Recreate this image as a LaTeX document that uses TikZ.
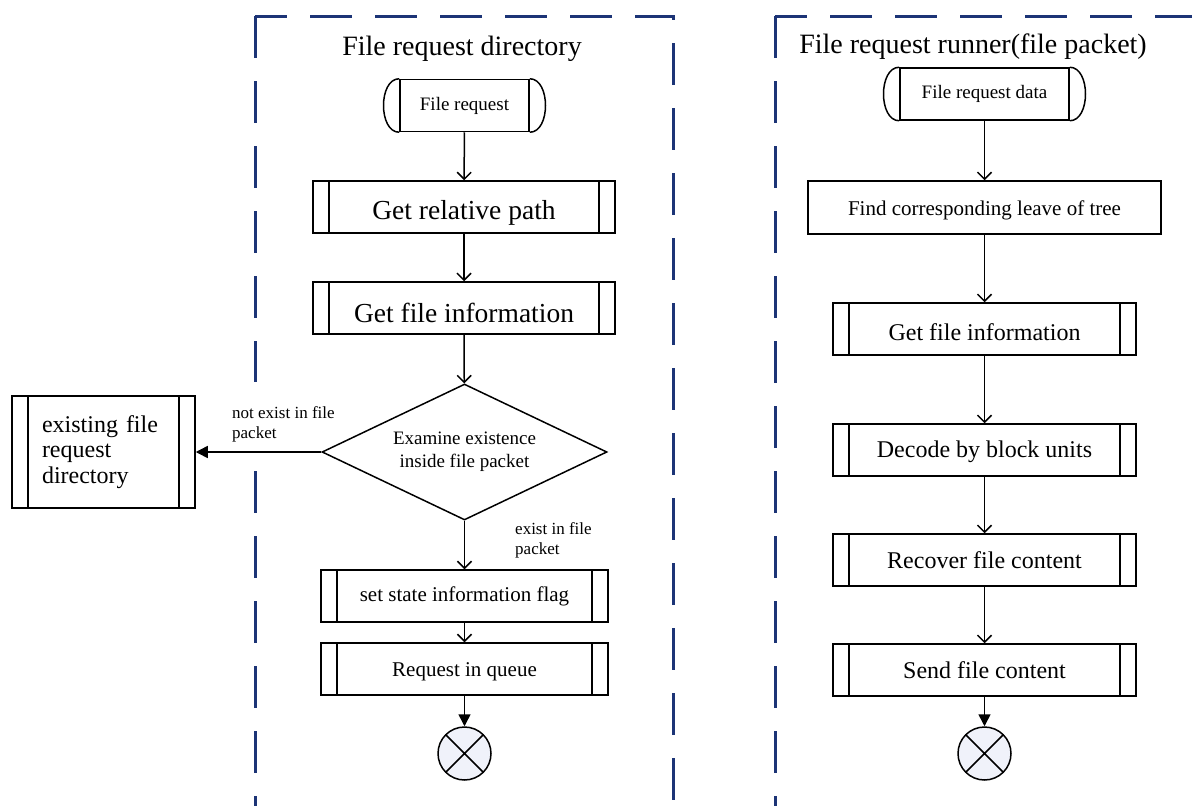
\documentclass[tikz,border=0pt]{standalone}
\usepackage{fontspec}
\setmainfont{Liberation Serif}
\usetikzlibrary{shapes.geometric,arrows.meta}
\definecolor{framenavy}{RGB}{28,52,118}
\definecolor{endfill}{RGB}{240,242,250}
\tikzset{
  fs/.style={font=\fontsize{#1pt}{1.2\dimexpr#1pt\relax}\selectfont},
  frame/.style={draw=framenavy, line width=3pt, dash pattern=on 42pt off 23pt},
  plainbox/.style={draw, line width=1.5pt, minimum height=52pt, inner sep=0pt},
  procbox/.style={plainbox, path picture={
      \draw[line width=1.5pt]
        ([xshift=16pt]path picture bounding box.north west) -- ([xshift=16pt]path picture bounding box.south west)
        ([xshift=-16pt]path picture bounding box.north east) -- ([xshift=-16pt]path picture bounding box.south east);}},
  termbox/.style={draw, line width=1.5pt, minimum height=52pt, inner sep=0pt},
  decision/.style={diamond, draw, line width=1.5pt, inner sep=0pt, shape aspect=2.1,
      minimum width=285pt, minimum height=136pt, align=center},
  endnode/.style={circle, draw, line width=1.5pt, fill=endfill, minimum size=53pt, inner sep=0pt,
      path picture={\draw[line width=1.5pt] (path picture bounding box.north west) -- (path picture bounding box.south east)
        (path picture bounding box.north east) -- (path picture bounding box.south west);}},
  flow/.style={draw, line width=1.5pt, -{Straight Barb[length=7pt,width=14pt,line width=1.5pt]}},
  flowfill/.style={draw, line width=1.5pt, -{Triangle[length=12pt,width=12pt]}},
  edgelabel/.style={fs=17, align=left, anchor=north west, inner sep=0pt},
}
\newcommand\termcaps[1]{%
  \draw[line width=1.5pt] (#1.north west) .. controls +(-21,0) and +(-21,0) .. (#1.south west)
    (#1.north east) .. controls +(21,0) and +(21,0) .. (#1.south east);}
% lower a line of text without changing the size of its box
\newcommand\lowered[2]{\raisebox{-#1}[\height][\depth]{#2}}
\begin{document}
\begin{tikzpicture}[x=1pt,y=-1pt]
\useasboundingbox (0,0) rectangle (1192,806);
\fill[white] (0,0) rectangle (1192,806);

% swim-lane frames (open at the bottom)
\begin{scope}
  \clip (0,0) rectangle (1192,806);
  \draw[frame] (255,16) -- (255,840);
  \draw[frame, dash phase=10pt] (255,16) -- (673,16) -- (673,840);
  \draw[frame] (775,16) -- (775,840);
  \draw[frame, dash phase=10pt] (775,16) -- (1240,16);
\end{scope}

% lane titles
\node[fs=28] (t1) at (462,49) {File request directory};
\node[fs=28] (t2) at (973,47) {File request runner(file packet)};

% branch label on a white patch that breaks the lane border
\node[edgelabel, fill=white, inner xsep=6pt, inner ysep=24pt] (n1) at (226,382) {not exist in file\\packet};
\node[edgelabel] (n2) at (515,522) {exist in file\\packet};

% left lane
\node[termbox, minimum width=129pt, fs=19] (L0) at (464.5,105.5) {File request};
\termcaps{L0}
\node[procbox, minimum width=302pt, fs=27.5] (L1) at (464,207) {\lowered{6pt}{Get relative path}};
\node[procbox, minimum width=302pt, fs=27.5] (L2) at (464,308) {\lowered{5pt}{Get file information}};
\node[decision, fs=19] (D) at (464.5,452) {Examine existence\\inside file packet};
\node[procbox, minimum width=287pt, fs=21] (L3) at (464.5,596) {set state information flag};
\node[procbox, minimum width=287pt, fs=21] (L4) at (464.5,669) {\lowered{3pt}{Request in queue}};
\node[endnode] (LE) at (464.5,753.5) {};

\node[procbox, minimum width=183pt, minimum height=112pt, text width=123pt, align=left,
      font=\fontsize{24pt}{25.5pt}\selectfont] (X) at (103.5,452)
  {existing file\\request\\directory};

\draw[flow] (L0) -- (L1);
\draw[flow] (L1) -- (L2);
\draw[flow] (L2) -- (D);
\draw[flow] (D) -- (L3);
\draw[flow] (L3) -- (L4);
\draw[flowfill] (L4) -- (LE);
\draw[flowfill] (D.west) -- (X.east);

% right lane
\node[termbox, minimum width=169pt, fs=19] (R0) at (984.5,94) {File request data};
\termcaps{R0}
\node[plainbox, minimum width=353pt, minimum height=53pt, fs=21] (R1) at (984.5,207.5) {\lowered{3pt}{Find corresponding leave of tree}};
\node[procbox, minimum width=303pt, fs=24] (R2) at (984.5,329) {\lowered{3pt}{Get file information}};
\node[procbox, minimum width=303pt, fs=24] (R3) at (984.5,450) {\lowered{2pt}{Decode by block units}};
\node[procbox, minimum width=303pt, fs=24] (R4) at (984.5,560) {Recover file content};
\node[procbox, minimum width=303pt, fs=24] (R5) at (984.5,670) {Send file content};
\node[endnode] (RE) at (984.5,753.5) {};

\draw[flow] (R0) -- (R1);
\draw[flow] (R1) -- (R2);
\draw[flow] (R2) -- (R3);
\draw[flow] (R3) -- (R4);
\draw[flow] (R4) -- (R5);
\draw[flowfill] (R5) -- (RE);
\end{tikzpicture}
\end{document}
